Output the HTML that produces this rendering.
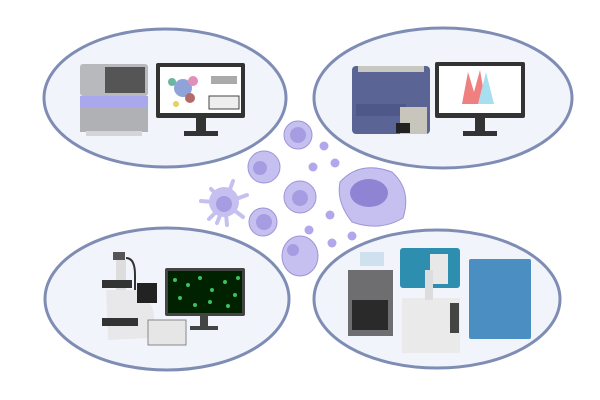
<!DOCTYPE html>
<html><head><style>html,body{margin:0;padding:0;background:#fff}svg{display:block}</style></head><body>
<svg width="600" height="400" viewBox="0 0 600 400" xmlns="http://www.w3.org/2000/svg">
<g fill="#f1f5fb" stroke="#7f8db5" stroke-width="3">
<ellipse cx="165" cy="98" rx="121" ry="69"/>
<ellipse cx="443" cy="98" rx="129" ry="70"/>
<ellipse cx="167" cy="299" rx="122" ry="71"/>
<ellipse cx="437" cy="299" rx="123" ry="69"/>
</g>
<!-- TL sequencer -->
<rect x="80" y="64" width="68" height="32" rx="3" fill="#b8b9bc"/>
<rect x="105" y="67" width="40" height="26" fill="#555"/>
<rect x="80" y="96" width="68" height="12" fill="#a9a8ec"/>
<rect x="80" y="108" width="68" height="24" fill="#b0b1b4"/>
<rect x="86" y="131" width="56" height="5" fill="#d5d5d7"/>
<!-- TL monitor -->
<rect x="156" y="63" width="89" height="55" rx="2" fill="#333"/>
<rect x="160" y="67" width="81" height="46" fill="#fff"/>
<circle cx="183" cy="88" r="9" fill="#8fa3d8"/><circle cx="193" cy="81" r="5" fill="#e090b8"/><circle cx="172" cy="82" r="4" fill="#6cb5a0"/><circle cx="190" cy="98" r="5" fill="#b56a6a"/><circle cx="176" cy="104" r="3" fill="#e6d060"/>
<rect x="211" y="76" width="26" height="8" fill="#aaa"/><rect x="209" y="96" width="30" height="13" fill="#eee" stroke="#444"/>
<rect x="196" y="118" width="10" height="14" fill="#333"/><rect x="184" y="131" width="34" height="5" fill="#333"/>
<!-- TR cytometer -->
<rect x="352" y="66" width="78" height="68" rx="4" fill="#5a6596"/>
<rect x="358" y="66" width="66" height="6" fill="#c8c8c0"/>
<rect x="356" y="104" width="50" height="12" fill="#4e598a"/>
<rect x="400" y="107" width="27" height="27" fill="#c8c6bc"/>
<rect x="396" y="123" width="14" height="10" fill="#222"/>
<!-- TR monitor -->
<rect x="435" y="62" width="90" height="56" rx="2" fill="#333"/>
<rect x="439" y="66" width="82" height="47" fill="#fff"/>
<path d="M462,104 L468,72 L474,92 L480,70 L486,104Z" fill="#f08080"/>
<path d="M478,104 L486,72 L494,104Z" fill="#a8dff0"/>
<rect x="475" y="118" width="10" height="14" fill="#333"/><rect x="463" y="131" width="34" height="5" fill="#333"/>
<!-- BL microscope -->
<rect x="113" y="252" width="12" height="8" fill="#555"/>
<rect x="116" y="260" width="10" height="30" fill="#ddd"/>
<path d="M126,258 Q135,258 135,275 L135,290" stroke="#333" stroke-width="2" fill="none"/>
<rect x="102" y="280" width="30" height="8" fill="#333"/>
<path d="M106,290 L146,290 L146,300 Q160,310 150,338 L108,340 Z" fill="#e8e8ea"/>
<rect x="102" y="318" width="36" height="8" fill="#333"/>
<rect x="137" y="283" width="20" height="20" fill="#222"/>
<rect x="148" y="320" width="38" height="25" fill="#e6e6e6" stroke="#888"/>
<!-- BL monitor -->
<rect x="165" y="268" width="80" height="48" rx="2" fill="#444"/>
<rect x="168" y="271" width="74" height="42" fill="#020"/>
<g fill="#3cc060"><circle cx="175" cy="280" r="2"/><circle cx="188" cy="285" r="2"/><circle cx="200" cy="278" r="2"/><circle cx="212" cy="290" r="2"/><circle cx="225" cy="282" r="2"/><circle cx="235" cy="295" r="2"/><circle cx="180" cy="298" r="2"/><circle cx="195" cy="305" r="2"/><circle cx="210" cy="302" r="2"/><circle cx="228" cy="306" r="2"/><circle cx="238" cy="278" r="2"/></g>
<rect x="200" y="316" width="8" height="10" fill="#444"/><rect x="190" y="326" width="28" height="4" fill="#444"/>
<!-- BR instruments -->
<rect x="348" y="270" width="45" height="66" fill="#6e6e70"/>
<rect x="352" y="300" width="36" height="30" fill="#2a2a2a"/>
<rect x="360" y="252" width="24" height="14" fill="#cfe0ee"/>
<rect x="400" y="248" width="60" height="40" rx="3" fill="#2d8eb0"/>
<rect x="430" y="254" width="18" height="30" fill="#e8e8e8"/>
<rect x="469" y="259" width="62" height="80" rx="2" fill="#4b8fc2"/>
<rect x="402" y="298" width="58" height="55" fill="#eaeaea"/>
<rect x="450" y="303" width="9" height="30" fill="#444"/>
<rect x="425" y="270" width="8" height="30" fill="#ddd"/>
<!-- cells -->
<g stroke="#c6c0f0" stroke-width="4" stroke-linecap="round">
<path d="M225,203 l-14,-14 M225,203 l-24,-2 M225,203 l-16,16 M225,203 l8,-22 M225,203 l22,-8 M225,203 l18,14 M225,203 l2,22 M225,203 l-8,20"/>
</g>
<g fill="#c6c0f0" stroke="#9d94d8" stroke-width="1">
<circle cx="224" cy="202" r="15" stroke="none"/>
<circle cx="298" cy="135" r="14"/>
<circle cx="264" cy="167" r="16"/>
<circle cx="300" cy="197" r="16"/>
<circle cx="263" cy="222" r="14"/>
<ellipse cx="300" cy="256" rx="18" ry="20"/>
<path d="M340,182 Q360,160 392,172 Q412,190 403,218 Q380,232 352,222 Q336,202 340,182Z"/>
</g>
<g fill="#a69ce2">
<circle cx="224" cy="204" r="8"/><circle cx="298" cy="135" r="8"/><circle cx="260" cy="168" r="7"/><circle cx="300" cy="198" r="8"/><circle cx="264" cy="222" r="8"/><circle cx="293" cy="250" r="6"/>
<ellipse cx="369" cy="193" rx="19" ry="14" fill="#8f83d4"/>
</g>
<g fill="#b0a8ea">
<circle cx="324" cy="146" r="4.5"/><circle cx="335" cy="163" r="4.5"/><circle cx="313" cy="167" r="4.5"/><circle cx="330" cy="215" r="4.5"/><circle cx="309" cy="230" r="4.5"/><circle cx="332" cy="243" r="4.5"/><circle cx="352" cy="236" r="4.5"/>
</g>
</svg>
</body></html>
